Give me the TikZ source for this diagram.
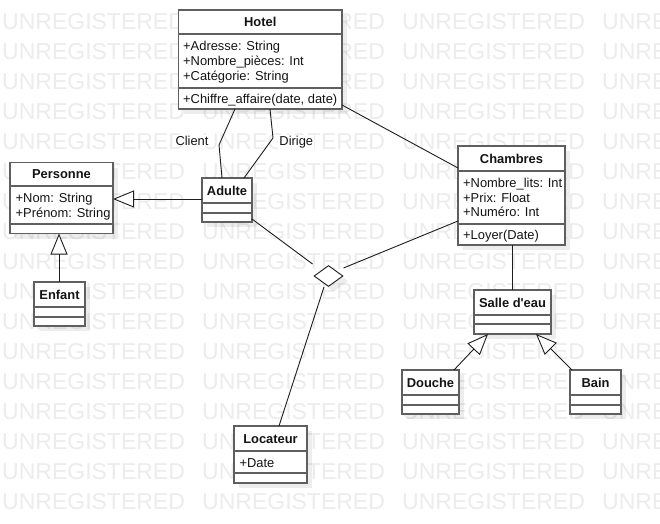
\documentclass[tikz,border=0pt]{standalone}
\usepackage{fontspec}
\setmainfont{Liberation Sans}[Ligatures=TeXOff]
\usetikzlibrary{arrows.meta,calc,shapes.geometric}
\definecolor{boxc}{RGB}{95,95,95}
\definecolor{wm}{RGB}{236,236,236}
\definecolor{txt}{RGB}{20,20,20}
\definecolor{lnc}{RGB}{30,30,30}
\newcommand\umlbox[8]{% name, L, T, R, B, S1, S2, title
  \fill[shad] (#2+5,#3+5) rectangle (#4+5,#5+5);
  \node[box, minimum width={#4-#2}, minimum height={#5-#3}] (#1) at ({(#2+#4)/2},{(#3+#5)/2}) {};
  \draw[sepline] (#2,#6) -- (#4,#6);
  \draw[sepline] (#2,#7) -- (#4,#7);
  \node[ttl] (#1-t) at ({(#2+#4)/2},{(#3+#6)/2+4.6}) {#8};
}
\begin{document}
\begin{tikzpicture}[x=1pt,y=-1pt,
  box/.style={draw=boxc, line width=1.4pt, fill=white, inner sep=0pt, outer sep=0pt, rectangle},
  sepline/.style={draw=boxc, line width=1.4pt},
  shad/.style={fill=black, fill opacity=0.07, draw=none},
  ttl/.style={font=\fontsize{12.9}{15}\selectfont\bfseries, text=txt, anchor=base, inner sep=0pt},
  attr/.style={font=\fontsize{12.9}{15}\selectfont, text=txt, anchor=base west, inner sep=0pt},
  wmtext/.style={font=\fontsize{23}{23}\selectfont, text=wm, anchor=base west, inner sep=0pt},
  conn/.style={draw=lnc, line width=0.9pt},
  inh/.style={conn, -{Triangle[length=21pt,width=17pt,fill=white,line width=0.9pt]}},
  lbl/.style={font=\fontsize{12.9}{15}\selectfont, text=txt, fill=white, inner sep=1pt, anchor=base}
]
\useasboundingbox (0,0) rectangle (660,523);
\fill[white] (0,0) rectangle (660,523);
% watermark
\foreach \r in {0,...,16}{
  \foreach \c in {0,...,3}{
    \node[wmtext] (wm-\r-\c) at ({2+200*\c},{29.3+30*\r}) {UNREGISTERED};
  }
}
% diamond
\fill[shad] (333.5,270.5) -- (348,281) -- (333.5,291.5) -- (319,281) -- cycle;
\node[diamond, draw=lnc, line width=0.9pt, fill=white, inner sep=0pt, minimum width=29pt, minimum height=21pt] (dia) at (328.5,276) {};
% classes
\umlbox{hotel}{178.5}{10}{342}{109}{34}{88}{Hotel}
\node[attr] (hotel-a1) at (183,50) {+Adresse: String};
\node[attr] (hotel-a2) at (183,65) {+Nombre\_pièces: Int};
\node[attr] (hotel-a3) at (183,80) {+Catégorie: String};
\node[attr] (hotel-m1) at (183,103.6) {+Chiffre\_affaire(date, date)};

\umlbox{personne}{10}{162.5}{113}{233.5}{186}{224}{Personne}
\node[attr] (personne-a1) at (15.5,202.5) {+Nom: String};
\node[attr] (personne-a2) at (15.5,217) {+Prénom: String};

\umlbox{adulte}{202}{178}{252}{222}{203}{213}{Adulte}

\umlbox{chambres}{458}{146}{565}{245}{171}{224}{Chambres}
\node[attr] (chambres-a1) at (463,187) {+Nombre\_lits: Int};
\node[attr] (chambres-a2) at (463,202) {+Prix: Float};
\node[attr] (chambres-a3) at (463,216.8) {+Numéro: Int};
\node[attr] (chambres-m1) at (463,239.5) {+Loyer(Date)};

\umlbox{enfant}{34}{282}{85}{326}{307}{317}{Enfant}
\umlbox{salle}{474}{290}{551}{334}{315}{324}{Salle d'eau}
\umlbox{douche}{402}{370}{459}{414}{395}{405}{Douche}
\umlbox{bain}{570}{370}{621}{414}{395}{405}{Bain}

\umlbox{loc}{234}{426}{307}{483}{451}{473}{Locateur}
\node[attr] (loc-a1) at (239.3,467) {+Date};

% connectors
\coordinate (clientbend) at (219,145);
\coordinate (dirigebend) at (273,138);
\draw[conn] ($(hotel.south west)+(56.5,0)$) -- (clientbend) -- ($(adulte.north west)+(20,0)$);
\draw[conn] ($(hotel.south west)+(91.5,0)$) -- (dirigebend) -- ($(adulte.north west)+(42,0)$);
\node[lbl] (clientlbl) at (192,145.2) {Client};
\node[lbl] (dirigelbl) at (296.3,145.2) {Dirige};
\draw[conn] ($(hotel.south east)+(0,-4)$) -- ($(chambres.north west)+(0,22)$);
\draw[inh] ($(adulte.north west)+(0,21)$) -- ($(personne.north east)+(0,36.5)$);
\draw[inh] ($(enfant.north west)+(25,0)$) -- ($(personne.south west)+(49,0)$);
\draw[conn] ($(adulte.south east)+(0,-3)$) -- ($(dia.west)+(-1,-12)$);
\draw[conn] ($(chambres.south west)+(0,-24)$) -- ($(dia.east)+(0,-8)$);
\draw[conn] ($(dia.south)+(-4.5,0)$) -- ($(loc.north west)+(45,0)$);
\draw[conn] ($(chambres.south west)+(54,0)$) -- ($(salle.north west)+(38,0)$);
\draw[inh] ($(douche.north west)+(52,0)$) -- ($(salle.south west)+(14,0)$);
\draw[inh] ($(bain.north west)+(2,0)$) -- ($(salle.south west)+(62,0)$);
\end{tikzpicture}
\end{document}
